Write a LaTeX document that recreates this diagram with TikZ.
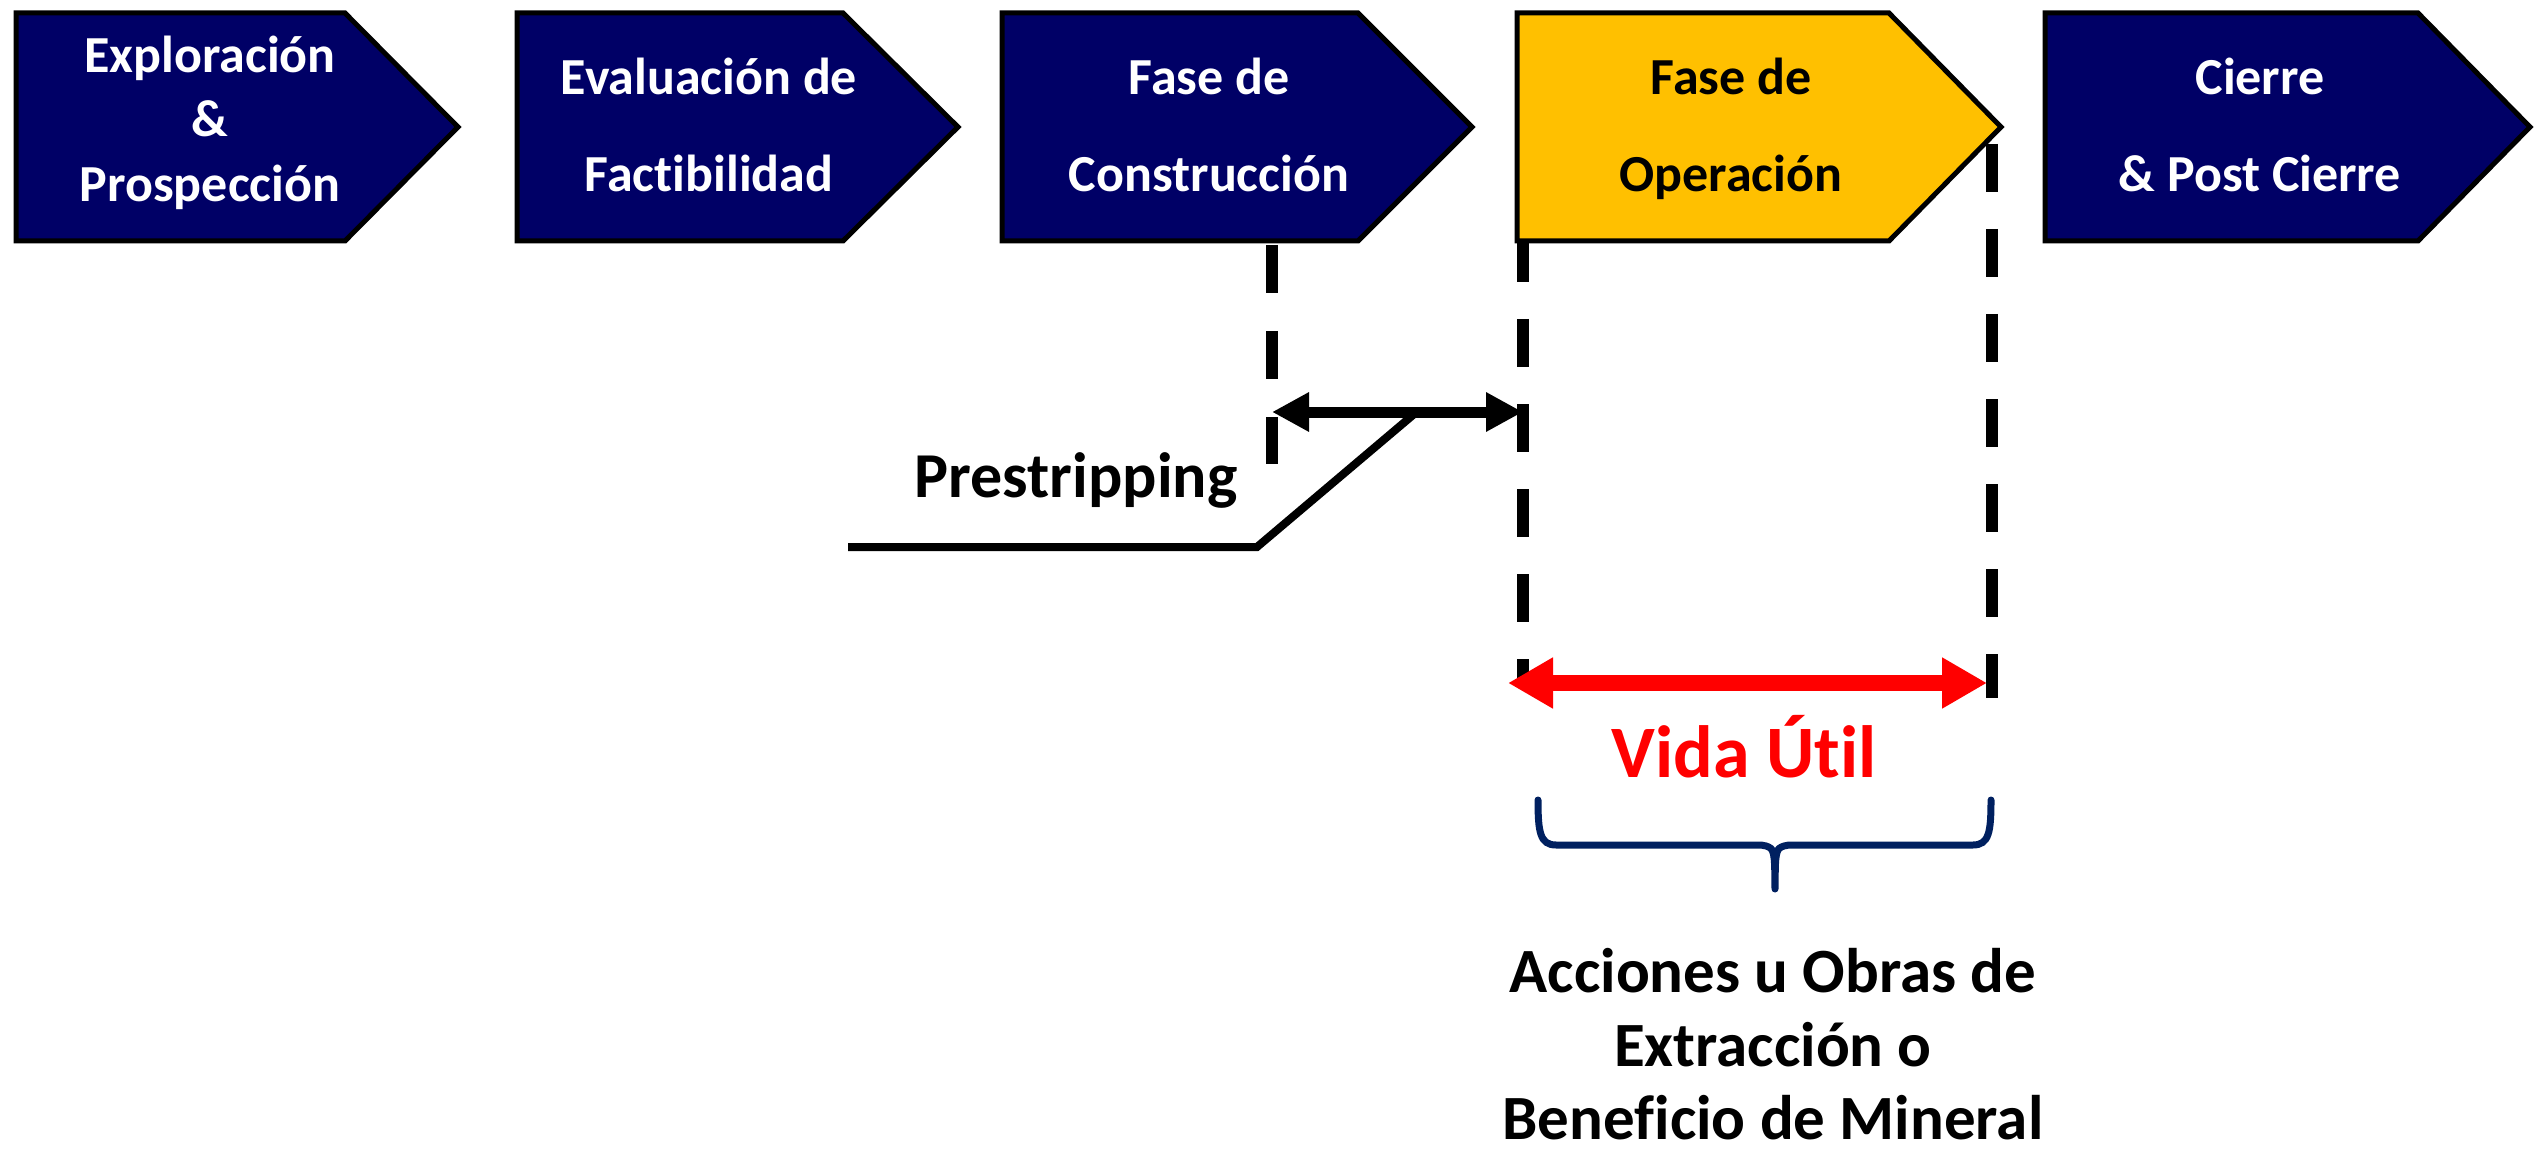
\documentclass[tikz,border=0pt]{standalone}
\usepackage{fontspec}
\setmainfont{Carlito}[Ligatures={NoCommon,NoContextual}, RawFeature={-liga;-clig;-calt;-dlig}]
\usetikzlibrary{arrows.meta}
\definecolor{navybox}{HTML}{000066}
\definecolor{goldbox}{HTML}{FFC000}
\definecolor{bracecol}{HTML}{002060}
\definecolor{redline}{HTML}{FF0000}
\tikzset{
  blacktip/.tip={Triangle[length=37pt,width=37pt]},
  redtip/.tip={Triangle[length=45pt,width=48pt]}
}
\begin{document}
\begin{tikzpicture}[x=1pt,y=-1pt,
  phasebox/.style={draw=black, line width=5pt, line join=miter},
  boxtxt/.style={anchor=base, inner sep=0pt, text=white, font=\fontsize{52pt}{60pt}\selectfont\bfseries},
  dashline/.style={draw=black, line width=12pt},
  labeltxt/.style={anchor=base, inner sep=0pt, text=black, font=\fontsize{63pt}{70pt}\selectfont\bfseries}]
\useasboundingbox (0,0) rectangle (2544,1150);

% dashed guide lines (drawn first, boxes cover their tops)
\coordinate (dl1a) at (1271.5,245);
\coordinate (dl1b) at (1271.5,464);
\coordinate (dl2a) at (1523,234);
\coordinate (dl2b) at (1523,683);
\coordinate (dl3a) at (1992,144);
\coordinate (dl3b) at (1992,698);
\draw[dashline, dash pattern=on 48pt off 38pt] (dl1a) -- (dl1b);
\draw[dashline, dash pattern=on 48pt off 37pt] (dl2a) -- (dl2b);
\draw[dashline, dash pattern=on 48pt off 37pt] (dl3a) -- (dl3b);

% phase boxes
\foreach \l/\s/\t/\c in {16/345/458/navybox, 517/843/958/navybox, 1002/1358/1472/navybox, 1517/1889/2001/goldbox, 2045/2418/2530/navybox}{
  \draw[phasebox, fill=\c] (\l,13) -- (\s,13) -- (\t,127) -- (\s,241) -- (\l,241) -- cycle;
}

% box texts
\node[boxtxt] (t1a) at (210,73) {Exploración};
\node[boxtxt] (t1b) at (210,137) {\&};
\node[boxtxt] (t1c) at (210,202) {Prospección};
\node[boxtxt] (t2a) at (709,95) {Evaluación de};
\node[boxtxt] (t2b) at (709,192) {Fact\kern0pt ibilidad};
\node[boxtxt] (t3a) at (1209,95) {Fase de};
\node[boxtxt] (t3b) at (1209,192) {Construcción};
\node[boxtxt, text=black] (t4a) at (1731,95) {Fase de};
\node[boxtxt, text=black] (t4b) at (1731,192) {Operación};
\node[boxtxt] (t5a) at (2260,95) {Cierre};
\node[boxtxt] (t5b) at (2260,192) {\& Post Cierre};

% prestripping arrow and leader
\coordinate (pa) at (1272,412);
\coordinate (pb) at (1523,412);
\draw[line width=11pt, {blacktip}-{blacktip}] (pa) -- (pb);
\coordinate (lead1) at (1413,415);
\coordinate (lead2) at (1257,547);
\coordinate (lead3) at (848,547);
\draw[line width=8pt, line join=miter] (lead1) -- (lead2) -- (lead3);
\node[labeltxt, font=\fontsize{64pt}{70pt}\selectfont\bfseries] (pre) at (1076,497) {Prestripping};

% vida util arrow
\coordinate (va) at (1508,683);
\coordinate (vb) at (1987,683);
\draw[redline, line width=16pt, {redtip}-{redtip}] (va) -- (vb);
\node[anchor=base, inner sep=0pt, text=redline, font=\fontsize{74pt}{80pt}\selectfont\bfseries] (vida) at (1744,777) {Vida Út\kern0pt il};

% brace
\coordinate (brl) at (1538,800);
\coordinate (brr) at (1991,800);
\coordinate (brm) at (1775,891);
\draw[bracecol, line width=7pt, line cap=round]
  (brl) .. controls (1538,832) and (1540,845) .. (1556,845)
  -- (1758,845) .. controls (1770,845) and (1775,850) .. (1775,858);
\draw[bracecol, line width=7pt, line cap=round]
  (brr) .. controls (1991,832) and (1989,845) .. (1973,845)
  -- (1792,845) .. controls (1780,845) and (1775,850) .. (1775,858);
\fill[bracecol] (1768,850) .. controls (1772,855) and (1771,870) .. (1771.5,889)
  arc[start angle=180, end angle=360, radius=3.5pt]
  .. controls (1779,870) and (1778,855) .. (1782,850) -- cycle;

% bottom text
\node[labeltxt] (acc1) at (1773,992) {Acciones u Obras de};
\node[labeltxt] (acc2) at (1773,1066) {Extracción o};
\node[labeltxt] (acc3) at (1773,1139) {Beneficio de Mineral};
\end{tikzpicture}
\end{document}
